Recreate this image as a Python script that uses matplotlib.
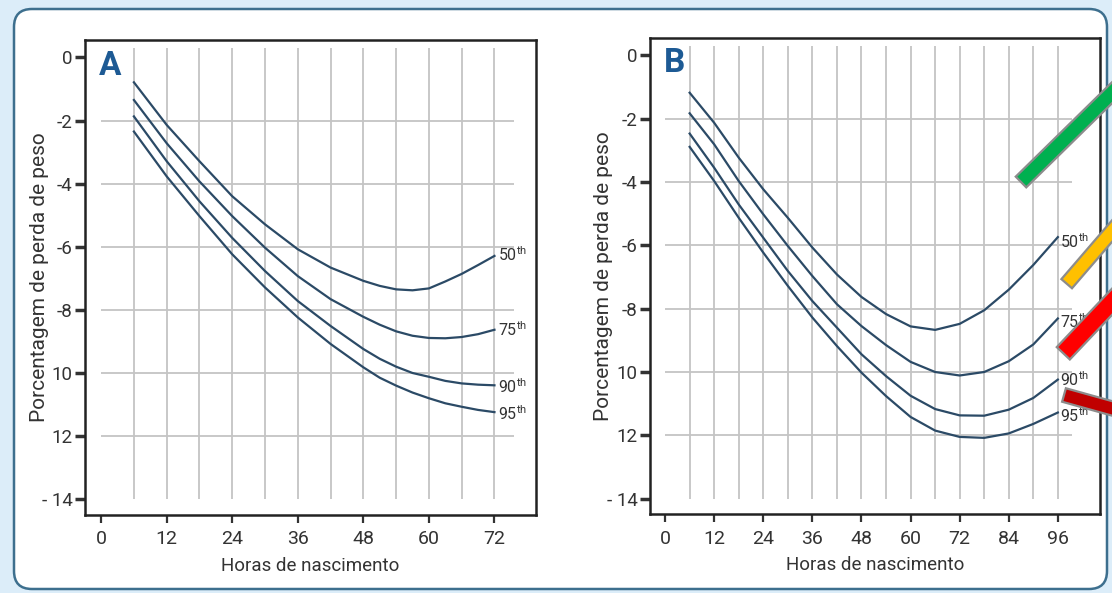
import numpy as np
import matplotlib
matplotlib.use("Agg")
import matplotlib.pyplot as plt
from matplotlib.patches import FancyBboxPatch, Polygon
from matplotlib.transforms import IdentityTransform

plt.rcParams['font.family'] = ['Roboto', 'DejaVu Sans']
plt.rcParams['mathtext.default'] = 'regular'

# --- data ---
hours_a = [6, 12, 18, 24, 30, 36, 42, 48, 51, 54, 57, 60, 63, 66, 69, 72]
p50_a = [-0.79, -2.14, -3.29, -4.40, -5.29, -6.08, -6.66, -7.08, -7.24, -7.35, -7.38, -7.32, -7.10, -6.86, -6.58, -6.29]
p75_a = [-1.35, -2.72, -3.93, -5.03, -6.03, -6.93, -7.66, -8.22, -8.47, -8.68, -8.82, -8.89, -8.90, -8.86, -8.77, -8.63]
p90_a = [-1.87, -3.29, -4.56, -5.72, -6.77, -7.72, -8.51, -9.24, -9.55, -9.80, -10.00, -10.12, -10.25, -10.33, -10.37, -10.39]
p95_a = [-2.35, -3.77, -5.03, -6.24, -7.29, -8.24, -9.08, -9.82, -10.15, -10.40, -10.62, -10.80, -10.96, -11.07, -11.17, -11.24]

hours_b = [6, 12, 18, 24, 30, 36, 42, 48, 54, 60, 66, 72, 78, 84, 90, 96]
p50_b = [-1.18, -2.13, -3.23, -4.23, -5.13, -6.07, -6.92, -7.63, -8.17, -8.56, -8.67, -8.48, -8.05, -7.40, -6.62, -5.74]
p75_b = [-1.83, -2.81, -3.97, -5.02, -6.02, -6.97, -7.86, -8.55, -9.15, -9.68, -10.00, -10.11, -10.00, -9.66, -9.13, -8.31]
p90_b = [-2.47, -3.55, -4.71, -5.76, -6.81, -7.76, -8.60, -9.44, -10.13, -10.75, -11.17, -11.37, -11.38, -11.19, -10.82, -10.24]
p95_b = [-2.89, -3.97, -5.13, -6.23, -7.28, -8.28, -9.18, -10.02, -10.76, -11.42, -11.85, -12.05, -12.08, -11.94, -11.64, -11.28]

percentiles = ['50', '75', '90', '95']
yticks = [0, -2, -4, -6, -8, -10, -12, -14]
ytick_labels = ['0', '-2', '-4', '-6', '-8', '10', '12', '- 14']
xticks_a = [0, 12, 24, 36, 48, 60, 72]
xticks_b = [0, 12, 24, 36, 48, 60, 72, 84, 96]

curve_col = '#2b4a66'
grid_col = '#c4c4c4'
text_col = '#333333'

W, H = 1112, 593
fig = plt.figure(figsize=(W / 100, H / 100), dpi=100)
fig.patch.set_facecolor('#dcedf9')

# rounded white panel behind both charts
frame = FancyBboxPatch((14, 4), 1093, 580, boxstyle='round,pad=0,rounding_size=18',
                       transform=IdentityTransform(), facecolor='white',
                       edgecolor='#3d6f8e', linewidth=1.8, zorder=0)
fig.add_artist(frame)

ax_a = fig.add_axes([0.0764, 0.1315, 0.4056, 0.801])
ax_b = fig.add_axes([0.5845, 0.1324, 0.4047, 0.8036])


def setup(ax, series, hours, xticks, xlim, label_x, label_dy, letter, ylab_x):
    ax.set_facecolor('none')
    ax.set_xlim(*xlim)
    ax.set_ylim(-14.5, 0.55)
    xmax = hours[-1]
    ax.vlines(np.arange(6, xmax + 1, 6), -14, 0.3, color=grid_col, lw=1.3, zorder=1)
    ax.hlines(yticks[1:-1], 0, xmax + 3.5, color=grid_col, lw=1.3, zorder=1)
    for vals, pc, dy in zip(series, percentiles, label_dy):
        ax.plot(hours, vals, color=curve_col, lw=1.6, zorder=3)
        ax.text(label_x, vals[-1] + dy, pc + r'$^{th}$', fontsize=11.5,
                color=text_col, ha='left', va='center')
    ax.set_yticks(yticks)
    ax.set_yticklabels(ytick_labels)
    ax.set_xticks(xticks)
    ax.tick_params(axis='y', length=7, width=2.5, labelsize=13.5, colors=text_col, pad=2)
    ax.tick_params(axis='x', length=6, width=1.6, labelsize=14, colors=text_col, pad=5)
    for s in ax.spines.values():
        s.set_linewidth(1.8)
        s.set_color('#222222')
    ax.set_ylabel('Porcentagem de perda de peso', fontsize=15, color=text_col)
    ax.yaxis.set_label_coords(ylab_x, 0.5)
    ax.set_xlabel('Horas de nascimento', fontsize=13.5, color=text_col)
    ax.xaxis.set_label_coords(0.5, -0.088)
    ax.text(0.03, 0.98, letter, transform=ax.transAxes, fontsize=24, fontweight='bold',
            color='#1d5a94', ha='left', va='top')


setup(ax_a, [p50_a, p75_a, p90_a, p95_a], hours_a, xticks_a, (-2.96, 79.6),
      72.6, [0.05, 0.0, -0.05, -0.05], 'A', -0.08)
setup(ax_b, [p50_b, p75_b, p90_b, p95_b], hours_b, xticks_b, (-3.7, 106.3),
      96.6, [-0.15, -0.1, 0.0, -0.1], 'B', -0.082)


# coloured pointer bars on the right side (pixel coords, y from top)
def bar(p0, p1, width, color):
    x0, y0 = p0[0], H - p0[1]
    x1, y1 = p1[0], H - p1[1]
    d = np.array([x1 - x0, y1 - y0], dtype=float)
    n = np.array([-d[1], d[0]]) / np.hypot(*d) * width / 2
    pts = [(x0 + n[0], y0 + n[1]), (x1 + n[0], y1 + n[1]),
           (x1 - n[0], y1 - n[1]), (x0 - n[0], y0 - n[1])]
    fig.add_artist(Polygon(pts, closed=True, transform=IdentityTransform(),
                           facecolor=color, edgecolor='#8c8c8c', linewidth=1.6, zorder=5))


bar((1021, 182), (1125, 80), 15, '#00b050')
bar((1066.7, 283.7), (1125, 216), 14, '#ffc000')
bar((1063.3, 353.3), (1125, 288), 18, '#ff0000')
bar((1064, 395), (1125, 412), 14, '#c00000')

fig.savefig('out.png', dpi=100, facecolor=fig.get_facecolor())
